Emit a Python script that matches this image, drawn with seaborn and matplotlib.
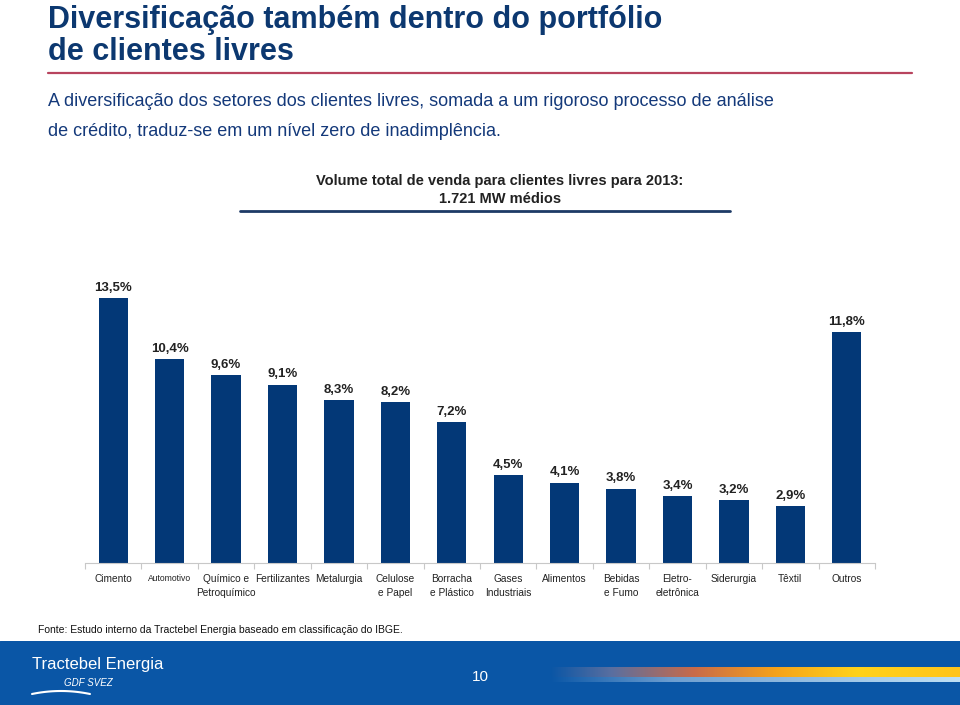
import matplotlib
matplotlib.use("Agg")
import matplotlib.pyplot as plt
import seaborn as sns
import numpy as np
import pandas as pd
from matplotlib.colors import LinearSegmentedColormap

categories = ["Cimento", "Automotivo", "Químico e\nPetroquímico", "Fertilizantes", "Metalurgia",
              "Celulose\ne Papel", "Borracha\ne Plástico", "Gases\nIndustriais", "Alimentos",
              "Bebidas\ne Fumo", "Eletro-\neletrônica", "Siderurgia", "Têxtil", "Outros"]
values = [13.5, 10.4, 9.6, 9.1, 8.3, 8.2, 7.2, 4.5, 4.1, 3.8, 3.4, 3.2, 2.9, 11.8]
value_labels = ["13,5%", "10,4%", "9,6%", "9,1%", "8,3%", "8,2%", "7,2%",
                "4,5%", "4,1%", "3,8%", "3,4%", "3,2%", "2,9%", "11,8%"]

title = "Diversificação também dentro do portfólio\nde clientes livres"
subtitle1 = "A diversificação dos setores dos clientes livres, somada a um rigoroso processo de análise"
subtitle2 = "de crédito, traduz-se em um nível zero de inadimplência."
chart_title = "Volume total de venda para clientes livres para 2013:\n1.721 MW médios"
source = "Fonte: Estudo interno da Tractebel Energia baseado em classificação do IBGE."

sns.set_theme(style="white")
plt.rcParams['font.family'] = ['Liberation Sans', 'DejaVu Sans']

W, H = 960, 705
fig = plt.figure(figsize=(9.6, 7.05), dpi=100)

def fx(px):
    return px / W

def fy(py):
    return 1 - py / H

# Title
fig.text(fx(48), fy(5), title, fontsize=22, fontweight='bold',
         color='#0c3870', va='top', ha='left', linespacing=1.08)
fig.add_artist(plt.Line2D([fx(48), fx(912)], [fy(73), fy(73)], color='#b8445e', lw=1.6))

# Subtitle
fig.text(fx(48), fy(101), subtitle1, fontsize=13, color='#14397a', va='center', ha='left')
fig.text(fx(48), fy(131), subtitle2, fontsize=13, color='#14397a', va='center', ha='left')

# Chart title
fig.text(fx(500), fy(190), chart_title, fontsize=10.5, fontweight='bold', color='#222222',
         va='center', ha='center', linespacing=1.3)
fig.add_artist(plt.Line2D([fx(240), fx(730)], [fy(211), fy(211)], color='#1d3a66', lw=2))

# Bar chart
ax = fig.add_axes([fx(85), fy(563), fx(875) - fx(85), (563 - 288.6) / H])
df = pd.DataFrame({"categoria": categories, "valor": values})
sns.barplot(data=df, x="categoria", y="valor", color='#033877', width=0.52,
            saturation=1, ax=ax, edgecolor='none')
ax.set_ylim(0, 14)
ax.set_xlim(-0.5, len(categories) - 0.5)
ax.bar_label(ax.containers[0], labels=value_labels, padding=3, fontsize=9.5,
             fontweight='bold', color='#222222')
for s in ['top', 'right', 'left']:
    ax.spines[s].set_visible(False)
ax.spines['bottom'].set_color('#c8c8c8')
ax.spines['bottom'].set_linewidth(0.8)
ax.set_yticks([])
ax.set_xlabel("")
ax.set_ylabel("")
ax.set_xticks(range(len(categories)))
ax.set_xticklabels(categories, fontsize=7.3, color='#222222', va='top', linespacing=1.5)
ax.get_xticklabels()[1].set_fontsize(6.2)
ax.tick_params(axis='x', which='major', length=0, pad=8)
ax.set_xticks(np.arange(-0.5, len(categories), 1), minor=True)
ax.tick_params(axis='x', which='minor', length=4, color='#c8c8c8', width=0.8, direction='out', bottom=True)

# Source
fig.text(fx(38), fy(630), source, fontsize=7.5, color='#111111', va='center', ha='left')

# Footer band
band = fig.add_axes([0, 0, 1, fy(641)])
band.axis('off')
band.add_patch(plt.Rectangle((0, 641), W, 64, color='#0a56a6', zorder=0))
cmap_main = LinearSegmentedColormap.from_list('stripe', [
    (0.0, '#0a56a6'), (0.15, '#5a6fa0'), (0.35, '#c86a4a'), (0.55, '#f5a21a'), (0.75, '#ffd21a'), (1.0, '#ffc41a')])
grad = np.linspace(0, 1, 256)[None, :]
band.imshow(grad, aspect='auto', cmap=cmap_main, extent=(550, 960, 677, 667), zorder=1)
cmap_low = LinearSegmentedColormap.from_list('low', [(0, '#0a56a6'), (0.3, '#6f9fd0'), (1, '#bfe0f5')])
band.imshow(grad, aspect='auto', cmap=cmap_low, extent=(550, 960, 682, 677), zorder=1)
band.set_xlim(0, W)
band.set_ylim(705, 641)

band.text(32, 665, "Tractebel Energia", fontsize=12, color='white',
          va='center', ha='left')
band.text(64, 683, "GDF SVEZ", fontsize=7, color='white', va='center', ha='left', style='italic')
xs = np.linspace(32, 90, 50)
band.plot(xs, 691 + 3 * ((xs - 61) / 29) ** 2, color='white', lw=1.5)
band.text(480, 677, "10", fontsize=11, color='white', va='center', ha='center')

fig.savefig("out.png", dpi=100)
